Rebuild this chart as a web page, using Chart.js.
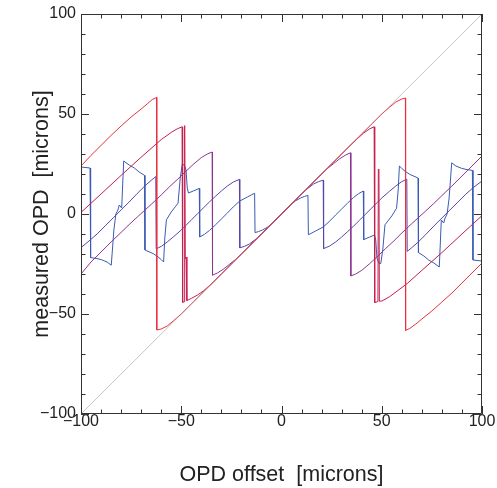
<!DOCTYPE html>
<html>
<head>
<meta charset="utf-8">
<script src="https://cdn.jsdelivr.net/npm/chart.js@4.4.1/dist/chart.umd.min.js"></script>
<style>
  html, body { margin: 0; padding: 0; background: #fff; }
  canvas { display: block; }
</style>
</head>
<body>
<canvas id="opd-chart" width="497" height="488" style="width:497px;height:488px"></canvas>
<script>
// ---- data (x = OPD offset, y = measured OPD, microns) ----
const diagX = [-100, 100];
const diagY = [-100, 100];

const redX = [-100, -95, -90, -85, -80, -75, -70, -67, -64.5, -62.3, -62.2, -60, -57, -54, -50, -45, -40, -30, -20, -10,
  0, 10, 20, 30, 40, 45, 50, 54, 57, 60, 61.8, 61.9, 64, 67, 70, 75, 80, 85, 90, 95, 100];
const redY = [24, 29.3, 34.3, 39.3, 44, 48.5, 52.5, 55, 57.2, 58.3, -58, -57.5, -56, -53.5, -50, -45, -40, -30, -20, -10,
  0, 10, 20, 30, 40, 45, 50, 53.5, 56, 57.5, 58, -58.2, -57.2, -55, -52.5, -48.5, -44, -39.5, -34.5, -29.5, -24.5];

const crimsonX = [-100, -90, -80, -70, -60, -55, -52, -49.6, -49.3, -48.6, -48.4, -48.2, -48.0, -47.6, -47.2, -45, -42, -39, -35, -30, -20, -10,
  0, 10, 20, 30, 35, 38, 41, 44, 46.2, 46.5, 48.1, 48.3, 48.6, 48.8, 50.1, 54, 58, 63, 70, 80, 90, 100];
const crimsonY = [0.8, 10, 19.3, 28.4, 37.2, 40.8, 42.6, 43.6, -44.2, -43.9, 44.2, 44, -22.3, -21.5, -43.3, -42.2, -40.6, -38.5, -35, -30, -20, -10,
  0, 10, 20, 30, 35, 37.8, 40.5, 42.6, 43.6, -44.3, -43.8, 22.4, 22.2, -43.6, -43.5, -41.3, -38.3, -34.5, -28.2, -19.3, -10, -0.8];

const purpleX = [-100, -95, -90, -85, -80, -76, -71.7, -65, -60, -56, -52, -48.5, -44, -40, -37, -34.6, -34.4, -32, -29, -26, -23, -20, -10,
  0, 10, 20, 23, 26, 29, 32, 34.4, 34.6, 37, 40, 44, 48.5, 52, 56, 60, 65, 71.7, 76, 80, 85, 90, 95, 100];
const purpleY = [-30, -24, -19, -14, -9.2, -5.3, -1.3, 4.8, 9.5, 13.5, 17.2, 20.6, 24.8, 28.2, 30, 31, -30.6, -29.5, -27.6, -25.2, -22.8, -20, -10,
  0, 10, 20, 22.8, 25.2, 27.6, 29.5, 30.6, -31, -30, -28.2, -24.8, -20.6, -17.2, -13.5, -9.5, -4.8, 1.3, 5.3, 9.2, 14, 19, 24, 29];

const indigoX = [-100, -96, -92, -88, -84, -80, -76, -72, -68, -65, -62.7, -62.5, -60, -57, -54, -50, -48, -45, -42, -39, -36, -33, -30, -27, -24, -21, -20.8, -18.5, -16, -13, -10,
  0, 10, 13, 16, 18.5, 20.8, 21, 24, 27, 30, 33, 36, 39, 42, 45, 48, 50, 54, 57, 60, 62.5, 62.7, 65, 68, 72, 76, 80, 84, 88, 92, 96, 100];
const indigoY = [-16.8, -13.5, -10, -6, -2, 2, 6, 10.2, 14.2, 16.8, 18.7, -17.4, -16.2, -14, -11.5, -8, -6, -3, 0, 3, 6, 8.8, 11.5, 14, 16, 17.3, -16.9, -16.2, -15, -12.7, -10,
  0, 10, 12.7, 15, 16.2, 16.9, -17.3, -16, -14, -11.5, -8.8, -6, -3, 0, 3, 6, 8, 11.5, 14, 16.2, 17.4, -18.7, -16.8, -14.2, -10.2, -6, -2, 2, 6, 10, 13.5, 16.5];

const blueX = [-100, -95.5, -95.2, -92.5, -89.9, -87, -84.9, -83.6, -82.6, -81.6, -80.9, -79.7, -79.2, -78.7, -76, -73.4, -71, -68.3, -68.1, -64, -61.6, -60, -58.8, -58.2, -57.4,
  -55, -53, -51.6, -50.5, -49.5, -48.5, -47.6, -47, -46.4, -44, -41, -40.8, -38.5, -36, -33, -30, -27, -24, -20.8, -17, -13.4, -13.2, -11.5, -9.5, -7, -4,
  0, 4, 7, 9.5, 11.5, 13.2, 13.4, 17, 20.8, 24, 27, 30, 33, 36, 38.5, 40.8, 41, 44, 46.4, 47, 47.6, 48.5, 49.5, 50.5, 51.6, 53, 55,
  57.4, 58.2, 58.8, 60, 61.6, 64, 68.1, 68.3, 71, 73.4, 76, 78.7, 79.2, 79.7, 80.9, 81.6, 82.6, 83.6, 84.9, 87, 89.9, 92.5, 95.2, 95.5, 100];
const blueY = [23.5, 23, -21.8, -22.2, -22.8, -24, -25.6, -8, 0, 2, 4.5, 3, 15, 26.5, 24.5, 23, 21, 19.3, -18, -19.8, -21.4, -22.8, -24, -12, -2.9,
  1, 3.6, 5.4, 18, 24.8, 24.5, 22, 13, 10.5, 11.5, 12.8, -11.5, -10.2, -8.3, -5.5, -2.5, 0.5, 3.6, 6.5, 8.5, 10.4, -9.3, -8.8, -8, -6.6, -4,
  0, 4, 6.6, 8, 8.8, 9.3, -10.4, -8.5, -6.5, -3.6, -0.5, 2.5, 5.5, 8.3, 10.2, 11.5, -12.8, -11.5, -10.5, -13, -22, -24.5, -24.8, -18, -5.4, -3.6, -1,
  2.9, 12, 24, 22.8, 21.4, 19.8, 18, -19.3, -21, -23, -24.5, -26.5, -15, -3, -4.5, -2, 0, 8, 25.6, 24, 22.8, 22.2, 21.8, -23, -23.5];

const axisTicks = [-100, -50, 0, 50, 100];

const FONT = "'Liberation Sans', Arial, Helvetica, sans-serif";

function pts(xs, ys) {
  return xs.map((x, i) => ({ x: x, y: ys[i] }));
}

function fmt(v) {
  return v < 0 ? '\u2212' + Math.abs(v) : String(v);
}

// frame with inward ticks on all four sides
const frameTicks = {
  id: 'frameTicks',
  afterDraw(chart) {
    const { ctx, chartArea: a, scales: { x, y } } = chart;
    ctx.save();
    ctx.strokeStyle = '#333';
    ctx.lineWidth = 1;
    ctx.beginPath();
    ctx.rect(Math.round(a.left) + 0.5, Math.round(a.top) + 0.5,
      Math.round(a.right - a.left) - 1, Math.round(a.bottom - a.top) - 1);
    for (let v = -100; v <= 100; v += 10) {
      const len = v % 50 === 0 ? 8 : 4.5;
      const px = Math.round(x.getPixelForValue(v)) + 0.5;
      ctx.moveTo(px, a.bottom); ctx.lineTo(px, a.bottom - len);
      ctx.moveTo(px, a.top); ctx.lineTo(px, a.top + len);
      const py = Math.round(y.getPixelForValue(v)) + 0.5;
      ctx.moveTo(a.left, py); ctx.lineTo(a.left + len, py);
      ctx.moveTo(a.right, py); ctx.lineTo(a.right - len, py);
    }
    ctx.stroke();
    ctx.restore();
  }
};

Chart.defaults.font.family = FONT;

new Chart(document.getElementById('opd-chart').getContext('2d'), {
  type: 'scatter',
  data: {
    datasets: [
      { data: pts(diagX, diagY), borderColor: 'rgba(150,150,150,0.55)', borderWidth: 1 },
      { data: pts(redX, redY), borderColor: '#e83040' },
      { data: pts(crimsonX, crimsonY), borderColor: '#c41e4e' },
      { data: pts(purpleX, purpleY), borderColor: '#8c3592' },
      { data: pts(indigoX, indigoY), borderColor: '#5c44a8' },
      { data: pts(blueX, blueY), borderColor: '#3a5ab4' },
    ].map(d => Object.assign({ showLine: true, pointRadius: 0, borderWidth: 1, tension: 0, fill: false }, d)),
  },
  options: {
    responsive: false,
    animation: false,
    layout: { padding: { top: 14, right: 15, left: 0, bottom: 0 } },
    plugins: { legend: { display: false }, tooltip: { enabled: false } },
    scales: {
      x: {
        type: 'linear', min: -100, max: 100,
        grid: { display: false, drawTicks: false },
        border: { display: false },
        afterBuildTicks: s => { s.ticks = axisTicks.map(v => ({ value: v })); },
        ticks: { padding: 0, autoSkip: false, maxRotation: 0, color: '#222',
                 font: { size: 16, lineHeight: 1 }, callback: fmt },
        title: { display: true, text: 'OPD offset  [microns]', color: '#222',
                 font: { size: 21.5 }, padding: { top: 0, bottom: 0 } },
        afterFit: s => { s.height = 74; },
      },
      y: {
        type: 'linear', min: -100, max: 100,
        grid: { display: false, drawTicks: false },
        border: { display: false },
        afterBuildTicks: s => { s.ticks = axisTicks.map(v => ({ value: v })); },
        ticks: { padding: 5, autoSkip: false, color: '#222',
                 font: { size: 16, lineHeight: 1 }, callback: fmt },
        title: { display: true, text: 'measured OPD  [microns]', color: '#222',
                 font: { size: 21.5 }, padding: { top: 29, bottom: 0 } },
        afterFit: s => { s.width = 81; },
      },
    },
  },
  plugins: [frameTicks],
});
</script>
</body>
</html>
